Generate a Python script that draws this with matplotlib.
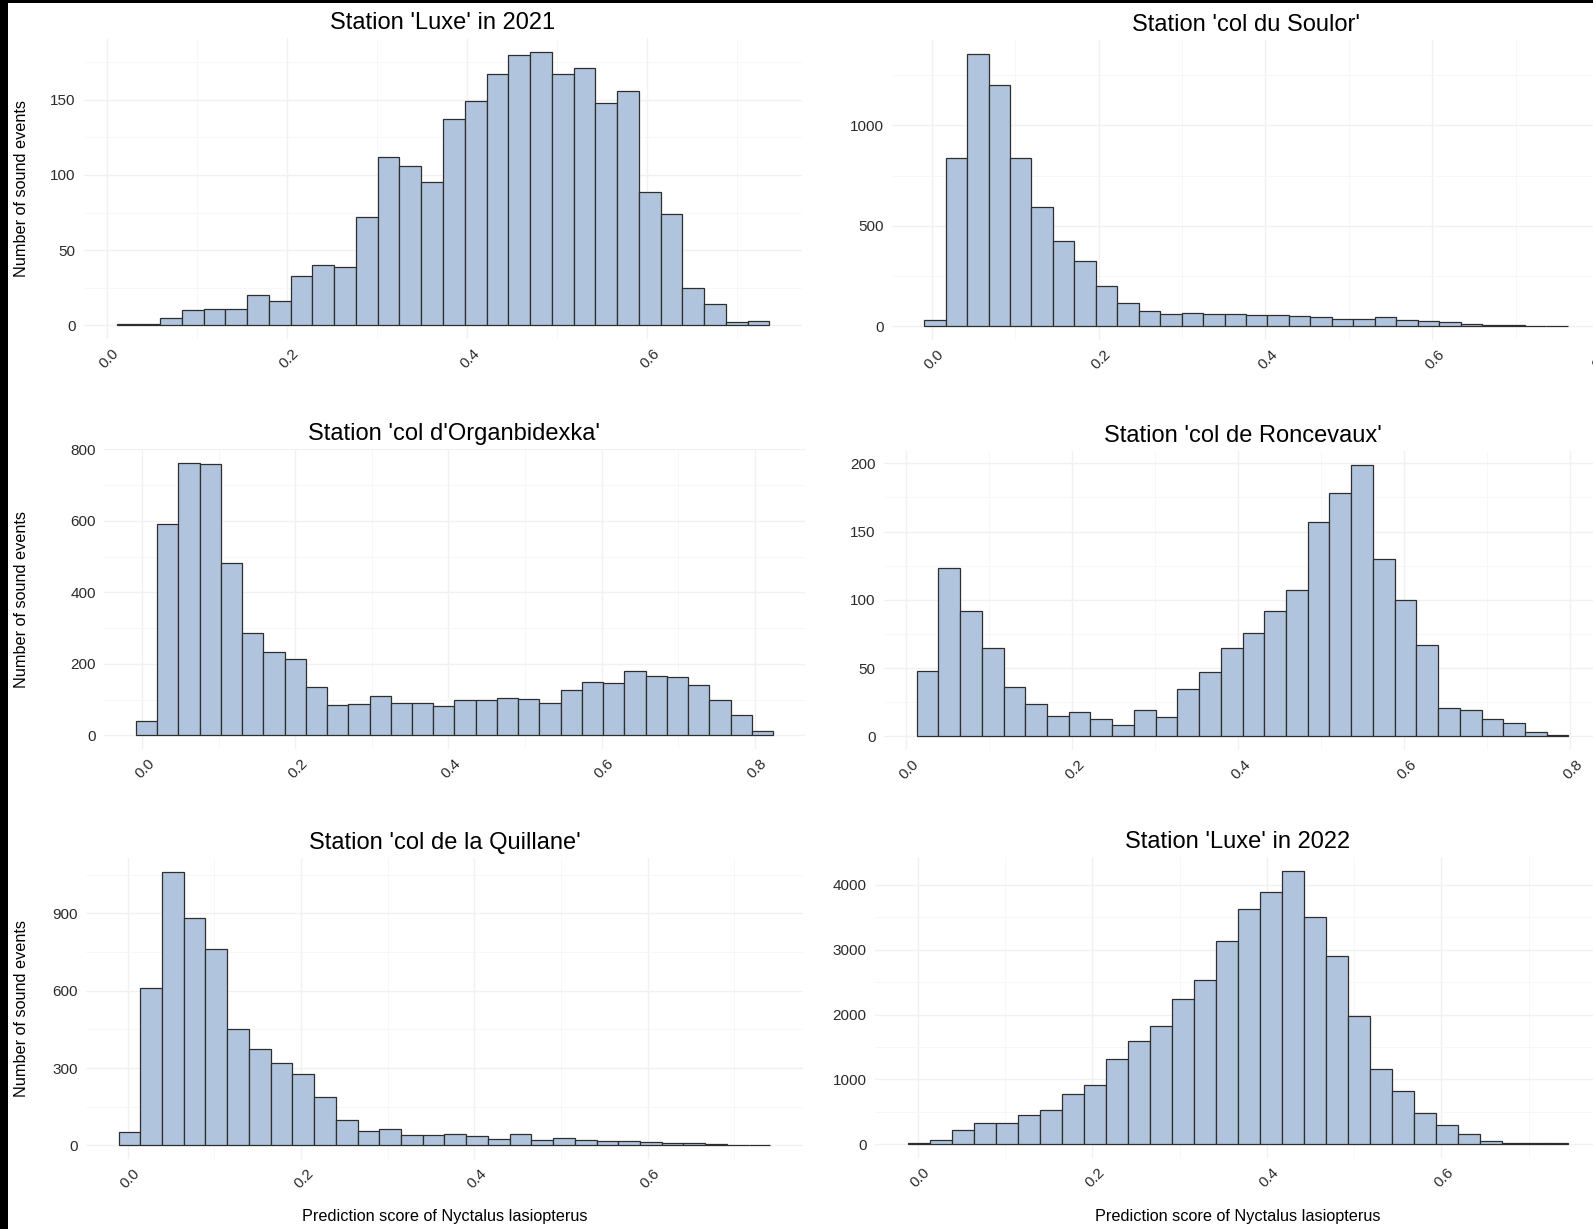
import matplotlib
matplotlib.use('Agg')
import matplotlib.pyplot as plt
from matplotlib.patches import Rectangle
from matplotlib.ticker import MultipleLocator, FormatStrFormatter
import matplotlib.transforms as mtransforms

plt.rcParams['font.family'] = ['Liberation Sans', 'DejaVu Sans']

W, H = 1593, 1229

# counts per bin (30 bins each)
luxe_2021 = [1, 1, 5, 10, 11, 11, 20, 16, 33, 40, 39, 72, 112, 106, 95,
             137, 149, 167, 180, 182, 167, 171, 148, 156, 89, 74, 25, 14, 2, 3]
soulor = [33, 837, 1357, 1202, 837, 594, 423, 325, 199, 116, 76, 63, 66, 60, 60,
          58, 55, 51, 46, 38, 38, 45, 33, 27, 20, 13, 8, 5, 3, 2]
organbidexka = [40, 590, 763, 758, 483, 285, 233, 213, 135, 84, 87, 109, 90, 90, 81,
                98, 98, 105, 103, 91, 126, 148, 147, 180, 166, 163, 140, 98, 56, 12]
roncevaux = [48, 123, 92, 65, 36, 24, 15, 18, 13, 8, 19, 14, 35, 47, 65,
             76, 92, 107, 157, 178, 199, 130, 100, 67, 21, 19, 13, 10, 3, 1]
quillane = [52, 609, 1062, 883, 760, 453, 372, 320, 276, 188, 97, 54, 65, 41, 39,
            43, 35, 26, 44, 19, 28, 19, 16, 17, 13, 9, 8, 5, 3, 3]
luxe_2022 = [20, 70, 221, 324, 334, 452, 530, 776, 915, 1311, 1594, 1825, 2242, 2524, 3136,
             3625, 3882, 4216, 3496, 2905, 1979, 1157, 823, 488, 298, 154, 57, 26, 15, 15]

# first bin edge and bin width of each histogram
bin_start = [0.011, -0.009, -0.0084, 0.0124, -0.0106, -0.011]
bin_width = [0.02415, 0.02571, 0.02775, 0.02618, 0.02507, 0.0252]

titles = ["Station 'Luxe' in 2021", "Station 'col du Soulor'",
          "Station 'col d'Organbidexka'", "Station 'col de Roncevaux'",
          "Station 'col de la Quillane'", "Station 'Luxe' in 2022"]
series = [luxe_2021, soulor, organbidexka, roncevaux, quillane, luxe_2022]
y_step = [50, 500, 200, 50, 300, 1000]

# panel boxes in pixels: left, right, top, bottom
boxes = [(84, 802, 38, 339), (892, 1600, 40, 340),
         (104, 805, 449, 749), (884, 1601, 451, 750),
         (86, 803, 858, 1159), (875, 1601, 857, 1158)]

fig = plt.figure(figsize=(W / 100, H / 100), dpi=100, facecolor='black')
fig.patches.append(Rectangle((8 / W, 0), 1 - 8 / W, 1 - 3 / H, transform=fig.transFigure,
                             facecolor='white', edgecolor='none', zorder=-10))

for i, counts in enumerate(series):
    l, r, t, b = boxes[i]
    ax = fig.add_axes([l / W, 1 - b / H, (r - l) / W, (b - t) / H])
    ax.set_facecolor('none')
    edges = [bin_start[i] + k * bin_width[i] for k in range(len(counts))]
    ax.bar(edges, counts, width=bin_width[i], align='edge', color='#B0C4DE',
           edgecolor='#2e2e2e', linewidth=0.9, zorder=3)

    x0 = bin_start[i]
    x1 = bin_start[i] + bin_width[i] * len(counts)
    pad = 0.05 * (x1 - x0)
    ax.set_xlim(x0 - pad, x1 + pad)
    ymax = max(counts)
    ax.set_ylim(-0.05 * ymax, 1.05 * ymax)

    ax.xaxis.set_major_locator(MultipleLocator(0.2))
    ax.xaxis.set_minor_locator(MultipleLocator(0.1))
    ax.xaxis.set_major_formatter(FormatStrFormatter('%.1f'))
    ax.yaxis.set_major_locator(MultipleLocator(y_step[i]))
    ax.yaxis.set_minor_locator(MultipleLocator(y_step[i] / 2))

    ax.grid(True, which='major', color='#F1F1F1', linewidth=1.0, zorder=0)
    ax.grid(True, which='minor', color='#F6F6F6', linewidth=0.6, zorder=0)
    for s in ax.spines.values():
        s.set_visible(False)
    ax.tick_params(which='both', length=0)
    ax.tick_params(axis='y', pad=6, labelsize=11, labelcolor='#2b2b2b')
    ax.tick_params(axis='x', pad=9, labelsize=11, labelcolor='#2b2b2b')

    shift = mtransforms.ScaledTranslation(10 / 100, 0, fig.dpi_scale_trans)
    for lab in ax.get_xticklabels():
        lab.set_rotation(45)
        lab.set_ha('right')
        lab.set_va('center')
        lab.set_rotation_mode('anchor')
        lab.set_transform(lab.get_transform() + shift)

    ax.annotate(titles[i], xy=(0.5, 1), xycoords='axes fraction', xytext=(0, 11),
                textcoords='offset points', ha='center', va='center', fontsize=17)

    if i % 2 == 0:
        fig.text(22 / W, 1 - (t + b) / 2 / H, 'Number of sound events', rotation=90,
                 ha='center', va='center', fontsize=11.7)
    if i >= 4:
        fig.text((l + r) / 2 / W, 1 - 1217 / H, 'Prediction score of Nyctalus lasiopterus',
                 ha='center', va='center', fontsize=11.7)

fig.savefig('out.png', dpi=100, facecolor=fig.get_facecolor())
